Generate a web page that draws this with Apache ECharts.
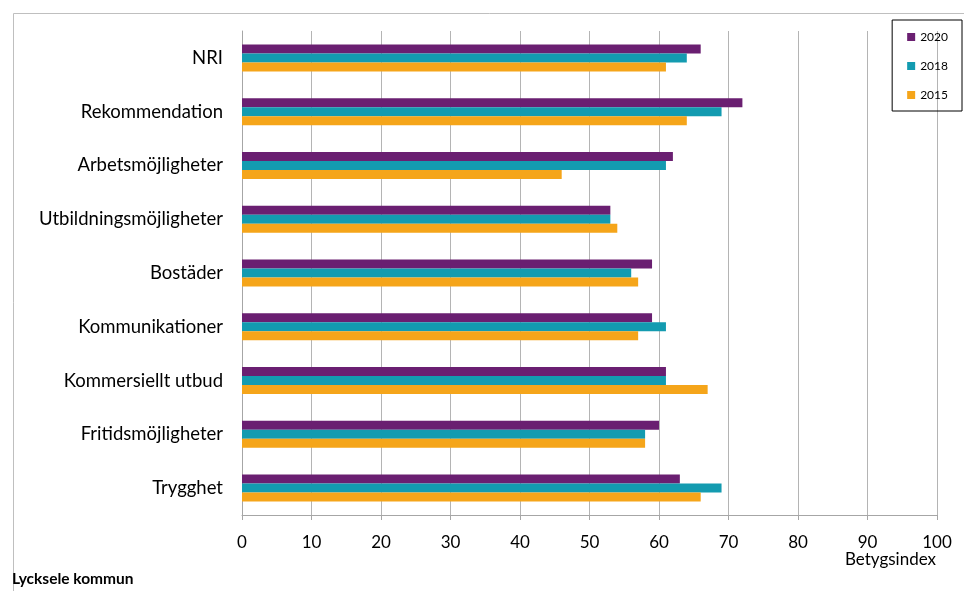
<!DOCTYPE html>
<html>
<head>
<meta charset="utf-8">
<script src="https://cdn.jsdelivr.net/npm/echarts@6/dist/echarts.min.js"></script>
<style>
html,body{margin:0;padding:0;background:#fff;}
#main{width:964px;height:591px;}
</style>
</head>
<body>
<div id="main"></div>
<script>
const categories = ['NRI','Rekommendation','Arbetsmöjligheter','Utbildningsmöjligheter','Bostäder','Kommunikationer','Kommersiellt utbud','Fritidsmöjligheter','Trygghet'];
const values2020 = [66,72,62,53,59,59,61,60,63];
const values2018 = [64,69,61,53,56,61,61,58,69];
const values2015 = [61,64,46,54,57,57,67,58,66];
const xTicks = [0,10,20,30,40,50,60,70,80,90,100];

const FONT = 'Lato, "Open Sans", sans-serif';
const chart = echarts.init(document.getElementById('main'));
const mk = (name, data, color) => ({
  name, type: 'bar', data, barWidth: 9, barGap: '0%', barCategoryGap: '50%',
  itemStyle: { color }, emphasis: { disabled: true }, animation: false
});
chart.setOption({
  animation: false,
  textStyle: { fontFamily: FONT },
  grid: { left: 242, right: 27, top: 31, bottom: 76, containLabel: false },
  legend: {
    orient: 'vertical', right: 2, top: 20,
    data: ['2020','2018','2015'],
    icon: 'rect', itemWidth: 8, itemHeight: 8, itemGap: 17,
    borderColor: '#000', borderWidth: 1, padding: [11, 14, 10, 15],
    textStyle: { fontSize: 12, color: '#000', fontFamily: FONT }
  },
  xAxis: {
    type: 'value', min: 0, max: 100, interval: 10,
    axisLine: { show: true, lineStyle: { color: '#a6a6a6' } },
    axisTick: { show: true, length: 5, lineStyle: { color: '#a6a6a6' } },
    splitLine: { show: true, lineStyle: { color: '#b4b4b4', width: 1 } },
    axisLabel: { fontSize: 17, color: '#000', margin: 19, fontFamily: FONT,
      formatter: v => xTicks.includes(v) ? String(v) : '' }
  },
  yAxis: {
    type: 'category', data: categories, inverse: true,
    axisLine: { show: true, lineStyle: { color: '#a6a6a6' } },
    axisTick: { show: false },
    axisLabel: { fontSize: 18.5, color: '#000', margin: 19, fontFamily: FONT }
  },
  series: [
    mk('2020', values2020, '#6a1f71'),
    mk('2018', values2018, '#139bb0'),
    mk('2015', values2015, '#f5a51a')
  ],
  graphic: [
    { type: 'rect', left: 11, top: 11, silent: true, z: -10,
      shape: { x: 0, y: 0, width: 1000, height: 1000 },
      style: { fill: 'none', stroke: '#bfbfbf', lineWidth: 1 } },
    { type: 'text', right: 964 - 936, top: 551,
      style: { text: 'Betygsindex', fontSize: 17, fill: '#000', fontFamily: FONT, textAlign: 'right' } },
    { type: 'text', left: 12, top: 571,
      style: { text: 'Lycksele kommun', fontSize: 15.5, fontWeight: 'bold', fill: '#000', fontFamily: FONT } }
  ]
});
</script>
</body>
</html>
